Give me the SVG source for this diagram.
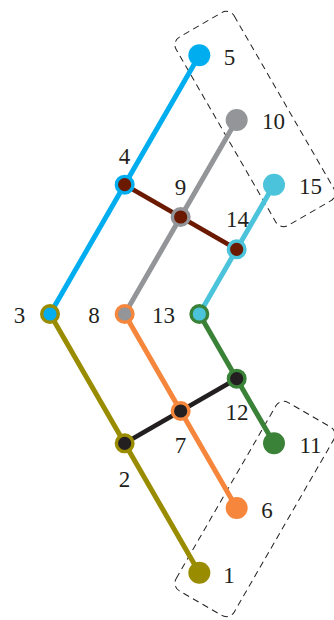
<svg xmlns="http://www.w3.org/2000/svg" width="334" height="620" viewBox="0 0 334 620">
<style>
.ln{fill:none;stroke-width:5;stroke-linecap:round}
.lk{fill:none;stroke-width:4.6}
.box{fill:none;stroke:#231F20;stroke-width:1;stroke-dasharray:6.5 4.5}
.end{stroke:none}
.ring{stroke-width:3.4}
text{font-family:"Liberation Serif","Times New Roman",serif;font-size:23px;fill:#231F20;text-anchor:middle}
</style>
<rect width="334" height="620" fill="#fff"/>
<g id="groups">
<rect class="box" transform="translate(255,119) rotate(60)" x="-108.75" y="-33.5" width="217.5" height="67" rx="9"/>
<rect class="box" transform="translate(255,509) rotate(-60)" x="-108.75" y="-33.5" width="217.5" height="67" rx="9"/>
</g>
<g id="connectors">
<line class="ln" x1="50" y1="314" x2="199.33" y2="55.33" stroke="#00AEEF"/>
<line class="ln" x1="124.67" y1="314" x2="236.67" y2="120" stroke="#939598"/>
<line class="ln" x1="199.33" y1="314" x2="274" y2="184.67" stroke="#4BC4DB"/>
<line class="ln" x1="50" y1="314" x2="199.33" y2="572.67" stroke="#9A8C00"/>
<line class="ln" x1="124.67" y1="314" x2="236.67" y2="508" stroke="#F5863C"/>
<line class="ln" x1="199.33" y1="314" x2="274" y2="443.33" stroke="#3A8238"/>
<line class="lk" x1="124.67" y1="184.67" x2="236.67" y2="249.33" stroke="#6B1A00"/>
<line class="lk" x1="124.67" y1="443.33" x2="236.67" y2="378.67" stroke="#231F20"/>
</g>
<g id="n1"><circle class="end" cx="199.33" cy="572.67" r="11" fill="#9A8C00"/><text x="229" y="582.5">1</text></g>
<g id="n2"><circle class="ring" cx="124.67" cy="443.33" r="8.3" fill="#231F20" stroke="#9A8C00"/><text x="124.5" y="486.5">2</text></g>
<g id="n3"><circle class="ring" cx="50" cy="314" r="8.3" fill="#00AEEF" stroke="#9A8C00"/><text x="19.5" y="322.5">3</text></g>
<g id="n4"><circle class="ring" cx="124.67" cy="184.67" r="8.3" fill="#6B1A00" stroke="#00AEEF"/><text x="124.5" y="163.5">4</text></g>
<g id="n5"><circle class="end" cx="199.33" cy="55.33" r="11" fill="#00AEEF"/><text x="229.5" y="64.5">5</text></g>
<g id="n6"><circle class="end" cx="236.67" cy="508" r="11" fill="#F5863C"/><text x="267" y="517.5">6</text></g>
<g id="n7"><circle class="ring" cx="180.67" cy="411" r="8.3" fill="#231F20" stroke="#F5863C"/><text x="180.5" y="452.5">7</text></g>
<g id="n8"><circle class="ring" cx="124.67" cy="314" r="8.3" fill="#939598" stroke="#F5863C"/><text x="94" y="322.5">8</text></g>
<g id="n9"><circle class="ring" cx="180.67" cy="217" r="8.3" fill="#6B1A00" stroke="#939598"/><text x="180.5" y="195">9</text></g>
<g id="n10"><circle class="end" cx="236.67" cy="120" r="11" fill="#939598"/><text x="273.5" y="128.5">10</text></g>
<g id="n11"><circle class="end" cx="274" cy="443.33" r="11" fill="#3A8238"/><text x="310.5" y="452.5">11</text></g>
<g id="n12"><circle class="ring" cx="236.67" cy="378.67" r="8.3" fill="#231F20" stroke="#3A8238"/><text x="237" y="419.5">12</text></g>
<g id="n13"><circle class="ring" cx="199.33" cy="314" r="8.3" fill="#4BC4DB" stroke="#3A8238"/><text x="163.5" y="322.5">13</text></g>
<g id="n14"><circle class="ring" cx="236.67" cy="249.33" r="8.3" fill="#6B1A00" stroke="#4BC4DB"/><text x="237.5" y="226.5">14</text></g>
<g id="n15"><circle class="end" cx="274" cy="184.67" r="11" fill="#4BC4DB"/><text x="310.5" y="193.5">15</text></g>
</svg>
